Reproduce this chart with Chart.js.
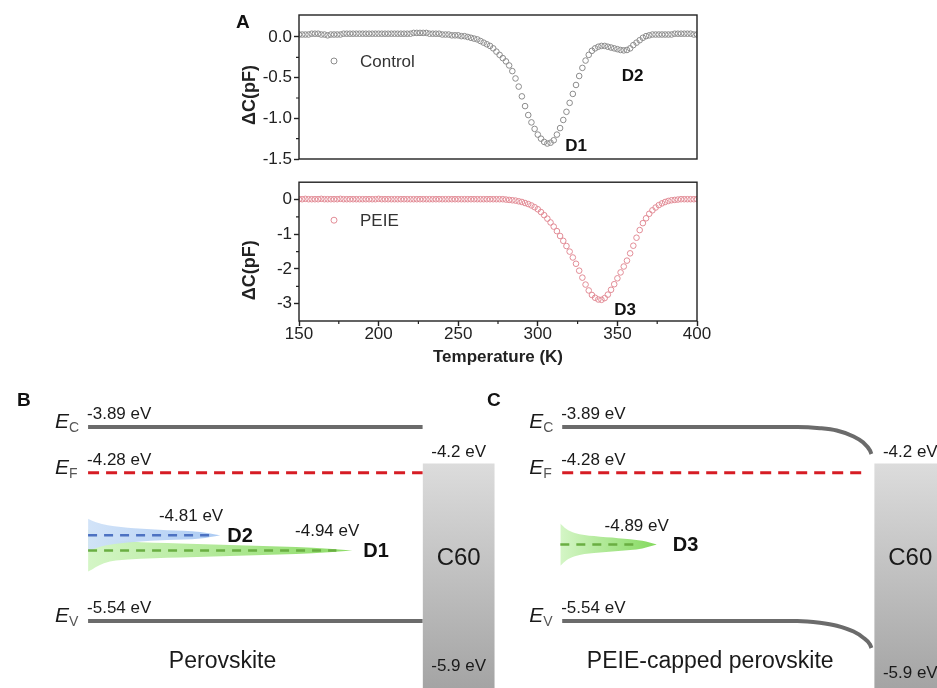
<!DOCTYPE html>
<html><head><meta charset="utf-8">
<script src="https://cdn.jsdelivr.net/npm/chart.js@4.4.1/dist/chart.umd.min.js"></script>
<style>
body{margin:0;background:#fff;}
#wrap{position:relative;width:937px;height:688px;overflow:hidden;background:#fff;font-family:'Liberation Sans',Arial,sans-serif;}
canvas{position:absolute;}
.lbl{position:absolute;font-weight:bold;font-size:19px;line-height:19px;color:#111;}
</style></head><body>
<div id="wrap">
<canvas id="cA1" width="500" height="172" style="left:230px;top:0"></canvas>
<canvas id="cA2" width="500" height="200" style="left:230px;top:170px"></canvas>
<canvas id="cBC" width="937" height="308" style="left:0;top:380px"></canvas>
<div class="lbl" style="left:236px;top:12px">A</div>
<div class="lbl" style="left:17px;top:390px">B</div>
<div class="lbl" style="left:487px;top:390px">C</div>
</div>
<script>
// ---------------- DATA ----------------
const tempK = [150,152,154,156,158,160,162,164,166,168,170,172,174,176,178,180,182,184,186,188,190,192,194,196,198,200,202,204,206,208,210,212,214,216,218,220,222,224,226,228,230,232,234,236,238,240,242,244,246,248,250,252,254,256,258,260,262,264,266,268,270,272,274,276,278,280,282,284,286,288,290,292,294,296,298,300,302,304,306,308,310,312,314,316,318,320,322,324,326,328,330,332,334,336,338,340,342,344,346,348,350,352,354,356,358,360,362,364,366,368,370,372,374,376,378,380,382,384,386,388,390,392,394,396,398,400];
const controlDC = [
0.03,0.03,0.03,0.03,0.04,0.04,0.04,0.03,0.03,0.02,
0.03,0.03,0.03,0.03,0.04,0.04,0.04,0.04,0.04,0.04,
0.04,0.04,0.04,0.04,0.04,0.04,0.04,0.04,0.04,0.04,
0.04,0.04,0.04,0.04,0.04,0.04,0.05,0.05,0.05,0.05,
0.05,0.04,0.04,0.04,0.04,0.03,0.03,0.03,0.02,0.02,
0.02,
0.01,0.01,0.0,-0.01,-0.02,-0.03,-0.05,-0.07,-0.09,-0.11,
-0.14,-0.18,-0.22,-0.26,-0.30,-0.35,-0.42,-0.51,-0.61,-0.73,
-0.85,-0.96,-1.05,-1.13,-1.20,-1.25,-1.29,-1.31,-1.30,-1.27,
-1.20,-1.12,-1.02,-0.92,-0.81,-0.70,-0.59,-0.48,-0.38,-0.29,
-0.22,-0.17,-0.14,-0.12,-0.11,-0.11,-0.12,-0.13,-0.14,-0.15,
-0.16,-0.165,-0.16,-0.14,-0.10,-0.07,-0.04,-0.01,0.01,0.02,
0.03,0.03,0.03,0.03,0.03,0.03,0.03,0.04,0.04,0.04,
0.04,0.04,0.04,0.03,0.03];
const peieDC = [
0.01,0.01,0.02,0.01,0.01,0.01,0.01,0.02,0.01,0.01,
0.01,0.01,0.01,0.02,0.01,0.01,0.01,0.01,0.01,0.01,
0.01,0.01,0.01,0.01,0.01,0.02,0.01,0.01,0.01,0.01,
0.01,0.01,0.01,0.01,0.01,0.01,0.01,0.01,0.01,0.01,
0.01,0.01,0.01,0.01,0.01,0.01,0.01,0.01,0.01,0.01,
0.01,0.01,0.01,0.01,0.01,0.01,0.01,0.01,0.01,0.01,
0.01,0.01,0.01,0.01,0.01,
0.0,-0.01,-0.02,-0.03,-0.05,-0.07,-0.10,-0.13,-0.17,-0.22,
-0.28,-0.36,-0.45,-0.55,-0.66,-0.78,-0.91,-1.05,-1.19,-1.34,
-1.50,-1.67,-1.85,-2.05,-2.25,-2.45,-2.62,-2.75,-2.83,-2.88,
-2.89,-2.84,-2.74,-2.60,-2.44,-2.27,-2.10,-1.93,-1.76,-1.55,
-1.33,-1.10,-0.88,-0.68,-0.54,-0.41,-0.31,-0.23,-0.16,-0.11,
-0.07,-0.04,-0.02,-0.01,0.0,0.01,0.01,0.01,0.01,0.01,
0.01];
const xTicks = [150,200,250,300,350,400];
const xMinorTicks = [175,225,275,325,375];
const yTicksControl = [0,-0.5,-1.0,-1.5];
const yMinorControl = [-0.25,-0.75,-1.25];
const yTicksPEIE = [0,-1,-2,-3];
const yMinorPEIE = [-0.5,-1.5,-2.5];
const seriesNames = ['Control','PEIE'];

// band diagram values (eV)
const levelKeys = ['C','F','V'];
const levelEnergies = [-3.89,-4.28,-5.54];
const c60Levels = [-4.2,-5.9];
const defectNames = ['D2','D1','D3'];
const defectEnergies = [-4.81,-4.94,-4.89];
const tailHalfWidth = [0.14,0.18,0.18];
const tailFrac = [0,0.06,0.15,0.35,0.6,0.85,1];
const tailShapeD2 = [1,0.78,0.6,0.42,0.3,0.2,0];
const tailShapeD1 = [1,0.6,0.43,0.33,0.24,0.13,0];
const tailShapeD3 = [1,0.75,0.55,0.4,0.3,0.18,0];
const panelNames = ['Perovskite','PEIE-capped perovskite'];
// band bending in the PEIE-capped film toward C60 (position a.u., energy eV)
const bendPos = [85.1,87.5,89.3,91.1,92.1,92.85,93.0];
const ecBendC = [-3.89,-3.90,-3.92,-3.97,-4.02,-4.09,-4.12];
const evBendC = [-5.54,-5.555,-5.58,-5.63,-5.68,-5.74,-5.77];

// ---------------- PANEL A ----------------
const FONT = "'Liberation Sans', Arial, Helvetica, sans-serif";
const INK = '#222';
Chart.defaults.font.family = FONT;

const panelAPlugin = {
  id: 'panelA',
  afterDraw(chart, args, o) {
    const {ctx, chartArea: a, scales} = chart;
    const sx = scales.x, sy = scales.y;
    ctx.save();
    ctx.strokeStyle = INK; ctx.lineWidth = 1.4;
    ctx.strokeRect(a.left, a.top, a.right - a.left, a.bottom - a.top);
    ctx.lineWidth = 1.2;
    ctx.beginPath();
    (o.yMinor || []).forEach(v => { const p = sy.getPixelForValue(v); ctx.moveTo(a.left, p); ctx.lineTo(a.left - 3, p); });
    (o.xMinor || []).forEach(v => { const p = sx.getPixelForValue(v); ctx.moveTo(p, a.bottom); ctx.lineTo(p, a.bottom + 3); });
    ctx.stroke();
    const lx = a.left + 35, ly = a.top + o.legendDy;
    ctx.beginPath(); ctx.arc(lx, ly, 3, 0, Math.PI * 2);
    ctx.strokeStyle = o.color; ctx.lineWidth = 1; ctx.stroke();
    ctx.fillStyle = '#333'; ctx.font = `17px ${FONT}`; ctx.textAlign = 'left'; ctx.textBaseline = 'middle';
    ctx.fillText(o.legend, a.left + 61, ly + 1);
    ctx.font = `bold 17px ${FONT}`; ctx.fillStyle = '#111'; ctx.textAlign = 'center';
    o.peaks.forEach(pk => ctx.fillText(pk.text, sx.getPixelForValue(pk.x), sy.getPixelForValue(pk.y)));
    ctx.translate(a.left - 49, a.top + o.titleDy);
    ctx.rotate(-Math.PI / 2);
    ctx.font = `bold 18px ${FONT}`; ctx.fillStyle = INK; ctx.textAlign = 'center'; ctx.textBaseline = 'middle';
    ctx.fillText('\u0394C(pF)', 0, 0);
    ctx.restore();
  }
};

function axisGrid() {
  return {display: true, drawOnChartArea: false, drawTicks: true, tickLength: 5, tickColor: INK, tickWidth: 1.4, color: INK};
}

function makeA(id, values, color, yMin, yMax, yTicks, fmt, showX, padding, pluginOpts) {
  return new Chart(document.getElementById(id), {
    type: 'scatter',
    data: {datasets: [{
      data: tempK.map((t, i) => ({x: t, y: values[i]})),
      borderColor: color, backgroundColor: 'rgba(0,0,0,0)',
      pointRadius: 2.8, pointBorderWidth: 1, pointHoverRadius: 2.8
    }]},
    options: {
      responsive: false, animation: false, events: [],
      layout: {padding},
      plugins: {legend: {display: false}, tooltip: {enabled: false}, panelA: pluginOpts},
      scales: {
        x: {
          type: 'linear', min: 150, max: 400, display: showX,
          afterBuildTicks: s => { s.ticks = xTicks.map(v => ({value: v})); },
          afterFit: s => { if (showX) s.height = 49; },
          ticks: {font: {size: 17}, color: INK, padding: -2, maxRotation: 0, autoSkip: false, callback: v => String(v)},
          grid: axisGrid(), border: {display: false},
          title: {display: true, text: 'Temperature (K)', color: INK, font: {size: 17, weight: 'bold'}, padding: {top: 0, bottom: 2}}
        },
        y: {
          type: 'linear', min: yMin, max: yMax,
          afterBuildTicks: s => { s.ticks = yTicks.map(v => ({value: v})); },
          afterFit: s => { s.width = 69; },
          ticks: {font: {size: 17}, color: INK, padding: 2, autoSkip: false, callback: fmt},
          grid: axisGrid(), border: {display: false}
        }
      }
    },
    plugins: [panelAPlugin]
  });
}

makeA('cA1', controlDC, 'rgb(140,140,140)', -1.5, 0.27, yTicksControl, v => v.toFixed(1), false,
  {top: 15, right: 33, bottom: 13, left: 0},
  {yMinor: yMinorControl, legend: seriesNames[0], color: 'rgb(140,140,140)', legendDy: 46, titleDy: 80,
   peaks: [{text: 'D1', x: 324, y: -1.34}, {text: 'D2', x: 359.5, y: -0.48}]});

makeA('cA2', peieDC, 'rgb(226,140,150)', -3.5, 0.5, yTicksPEIE, v => String(v), true,
  {top: 9, right: 33, bottom: 0, left: 0},
  {yMinor: yMinorPEIE, xMinor: xMinorTicks, legend: seriesNames[1], color: 'rgb(226,140,150)', legendDy: 38, titleDy: 88,
   peaks: [{text: 'D3', x: 354.8, y: -3.2}]});

// ---------------- PANELS B / C ----------------
const panels = [
  {start: 9.4, end: 45.1, efEnd: 45.1, c60: [45.1, 52.8], nameX: 23.75, lowDy: 3},
  {start: 60.0, end: 85.1, efEnd: 92.5, c60: [93.3, 101], nameX: 75.8, lowDy: 10}
];
const defectGeo = [
  {x0: 9.4, tip: 23.5, dashEnd: 22.4, gap: 7, shape: tailShapeD2, c0: 'rgba(208,226,248,0.95)', c1: 'rgba(168,200,242,0.95)', dash: '#4d72c2'},
  {x0: 9.4, tip: 37.6, dashEnd: 35.9, gap: 11, shape: tailShapeD1, c0: 'rgba(210,245,195,0.95)', c1: 'rgba(135,218,95,0.95)', dash: '#6aae42'},
  {x0: 59.8, tip: 70.1, dashEnd: 68.3, gap: 16, shape: tailShapeD3, c0: 'rgba(210,245,195,0.95)', c1: 'rgba(125,215,85,0.95)', dash: '#6aae42'}
];

function hGrad(x0, x1, c0, c1) {
  return (c) => {
    const ch = c.chart;
    if (!ch.chartArea) return c0;
    const sx = ch.scales.x;
    const g = ch.ctx.createLinearGradient(sx.getPixelForValue(x0), 0, sx.getPixelForValue(x1), 0);
    g.addColorStop(0, c0); g.addColorStop(1, c1);
    return g;
  };
}
function c60Grad(c) {
  const ch = c.chart;
  if (!ch.chartArea) return '#c8c8c8';
  const y0 = ch.scales.y.getPixelForValue(c60Levels[0]);
  const g = ch.ctx.createLinearGradient(0, y0, 0, ch.chartArea.bottom);
  g.addColorStop(0, '#dcdcdc'); g.addColorStop(1, '#a4a4a4');
  return g;
}

const ds = [];
const BAND = '#6b6b6b', RED = 'rgb(214,28,36)';
panels.forEach((p, pi) => {
  if (pi === 0) {
    ds.push({data: [{x: p.start, y: levelEnergies[0]}, {x: p.end, y: levelEnergies[0]}], borderColor: BAND, borderWidth: 4, order: 0});
    ds.push({data: [{x: p.start, y: levelEnergies[2]}, {x: p.end, y: levelEnergies[2]}], borderColor: BAND, borderWidth: 4, order: 0});
  } else {
    ds.push({data: [{x: p.start, y: levelEnergies[0]}].concat(bendPos.map((b, i) => ({x: b, y: ecBendC[i]}))),
      borderColor: BAND, borderWidth: 4, cubicInterpolationMode: 'monotone', order: 0});
    ds.push({data: [{x: p.start, y: levelEnergies[2]}].concat(bendPos.map((b, i) => ({x: b, y: evBendC[i]}))),
      borderColor: BAND, borderWidth: 4, cubicInterpolationMode: 'monotone', order: 0});
  }
  ds.push({data: [{x: p.start, y: levelEnergies[1]}, {x: p.efEnd, y: levelEnergies[1]}], borderColor: RED, borderWidth: 3, borderDash: [11, 7], order: 0});
  ds.push({data: [{x: p.c60[0], y: c60Levels[0]}, {x: p.c60[1], y: c60Levels[0]}], borderWidth: 0, borderColor: 'rgba(0,0,0,0)',
    fill: 'start', backgroundColor: c60Grad, order: 10});
});
defectEnergies.forEach((E, i) => {
  const g = defectGeo[i], hw = tailHalfWidth[i], L = g.tip - g.x0;
  ds.push({data: tailFrac.map((f, k) => ({x: g.x0 + f * L, y: E + g.shape[k] * hw})), borderWidth: 0, borderColor: 'rgba(0,0,0,0)',
    fill: '+1', backgroundColor: hGrad(g.x0, g.tip, g.c0, g.c1), cubicInterpolationMode: 'monotone', order: 5 + i});
  ds.push({data: tailFrac.map((f, k) => ({x: g.x0 + f * L, y: E - g.shape[k] * hw})), borderWidth: 0, borderColor: 'rgba(0,0,0,0)',
    fill: false, cubicInterpolationMode: 'monotone', order: 5 + i});
  ds.push({data: [{x: g.x0, y: E}, {x: g.dashEnd, y: E}], borderColor: g.dash, borderWidth: 2.5, borderDash: [9, 7], order: 1});
});

const bandText = {
  id: 'bandText',
  afterDatasetsDraw(chart) {
    const {ctx, chartArea: a, scales: {x, y}} = chart;
    ctx.save();
    panels.forEach((p, pi) => {
      const sx = x.getPixelForValue(p.start);
      levelEnergies.forEach((E, i) => {
        const py = y.getPixelForValue(E);
        ctx.textBaseline = 'alphabetic'; ctx.textAlign = 'left';
        ctx.fillStyle = '#1a1a1a'; ctx.font = `italic 21px ${FONT}`;
        ctx.fillText('E', sx - 33, py + 1);
        ctx.fillStyle = '#555'; ctx.font = `14px ${FONT}`;
        ctx.fillText(levelKeys[i], sx - 19, py + 5);
        ctx.fillStyle = '#1a1a1a'; ctx.font = `17px ${FONT}`;
        ctx.fillText(`${E.toFixed(2)} eV`, sx - 1, py - 8);
      });
      const cl = x.getPixelForValue(p.c60[0]), cr = x.getPixelForValue(p.c60[1]), cc = (cl + cr) / 2;
      ctx.textAlign = 'center'; ctx.fillStyle = '#1a1a1a';
      ctx.font = `17px ${FONT}`; ctx.textBaseline = 'alphabetic';
      ctx.fillText(`${c60Levels[0]} eV`, cc, y.getPixelForValue(c60Levels[0]) - 6);
      ctx.textBaseline = 'middle';
      ctx.fillText(`${c60Levels[1]} eV`, cc, y.getPixelForValue(c60Levels[1]) + p.lowDy);
      ctx.font = `24px ${FONT}`;
      ctx.fillText('C60', cc, y.getPixelForValue((c60Levels[0] + c60Levels[1]) / 2) - 5);
      ctx.font = `23px ${FONT}`;
      ctx.fillText(panelNames[pi], x.getPixelForValue(p.nameX), a.bottom - 26);
    });
    defectEnergies.forEach((E, i) => {
      const g = defectGeo[i], tp = x.getPixelForValue(g.tip), py = y.getPixelForValue(E);
      ctx.font = `17px ${FONT}`; ctx.textAlign = 'right'; ctx.textBaseline = 'alphabetic'; ctx.fillStyle = '#1a1a1a';
      ctx.fillText(`${E.toFixed(2)} eV`, tp + g.gap - 4, py - 14);
      ctx.font = `bold 20px ${FONT}`; ctx.textAlign = 'left'; ctx.textBaseline = 'middle'; ctx.fillStyle = '#111';
      ctx.fillText(defectNames[i], tp + g.gap, py + 1);
    });
    ctx.restore();
  }
};

new Chart(document.getElementById('cBC'), {
  type: 'line',
  data: {datasets: ds},
  options: {
    responsive: false, animation: false, events: [],
    layout: {padding: 0},
    elements: {point: {radius: 0, hoverRadius: 0}, line: {tension: 0}},
    scales: {
      x: {type: 'linear', min: 0, max: 100, display: false},
      y: {type: 'linear', min: -6.11, max: -3.49, display: false}
    },
    plugins: {legend: {display: false}, tooltip: {enabled: false}}
  },
  plugins: [bandText]
});
</script>
</body></html>
